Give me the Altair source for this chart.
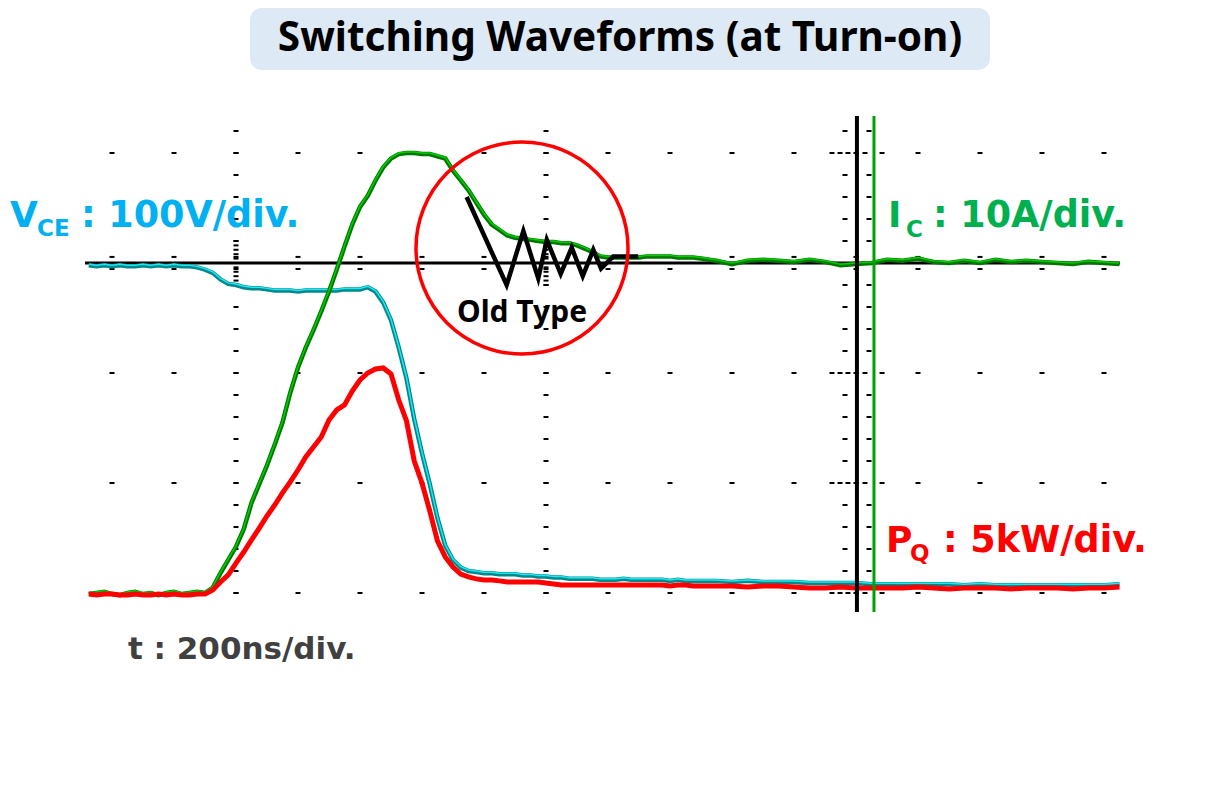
import altair as alt
import pandas as pd

# ---------------- data ----------------
# sample times in ns (200 ns/div)
t_ns = list(range(-95, 300, 5)) + list(range(300, 571, 10))

# collector current I_C in A (10 A/div)
ic_A = [-0.1, 0.0, 0.1, -0.1, -0.2, 0.0, 0.1, -0.1, 0.0, -0.2, 0.0, 0.1, -0.1, 0.0, 0.1, 0.0,
        0.5, 1.8, 3.0, 4.2, 5.8, 8.2, 9.9, 11.6, 13.5, 15.5, 18.2, 20.5, 22.3, 23.9, 25.6, 27.4,
        29.4, 31.5, 33.5, 35.1, 36.1, 37.5, 38.7, 39.5, 39.9, 40.0, 40.0, 39.9, 39.9, 39.7, 39.5,
        38.4, 37.5, 36.6, 35.5, 34.4, 33.5, 33.0, 32.5, 32.3, 32.2, 32.1, 32.0, 31.9, 31.9, 31.8,
        31.8, 31.6, 31.3, 31.0, 30.6, 30.5, 30.5, 30.5, 30.5, 30.5, 30.6, 30.6, 30.6, 30.6, 30.5,
        30.5, 30.5,
        30.4, 30.2, 29.9, 30.2, 30.3, 30.2, 30.1, 30.3, 30.1, 29.8, 29.9, 30.0, 30.3, 30.2, 30.4,
        30.1, 30.0, 30.2, 30.0, 30.3, 30.1, 30.2, 30.1, 30.0, 29.9, 30.1, 30.0, 29.9]

# collector-emitter voltage V_CE in V (100 V/div)
vce_V = [298, 297, 298, 297, 298, 297, 297, 298, 297, 298, 297, 298, 297, 297,
         296, 294, 291, 285, 281, 280, 278, 277, 277, 276, 275, 275, 275, 274, 275, 275,
         275, 275, 275, 276, 276, 276, 278, 274, 264, 248, 223, 195, 158, 127, 99, 68, 43,
         30, 23, 20, 19, 18, 18, 17, 17, 17, 16, 16, 15, 15, 14, 14, 13, 13, 13, 13, 12, 12,
         12, 13, 12, 12, 12, 12, 12, 11, 12, 11, 11,
         11, 11, 10, 11, 10, 10, 10, 9, 9, 9, 9, 8, 8, 8, 8, 8, 8, 7, 8, 7,
         7, 7, 7, 7, 7, 7, 7, 8]

# switching power P_Q in kW (5 kW/div)
pq_kW = [-0.05, -0.09, -0.05, -0.05, -0.09, -0.09, -0.05, -0.09, -0.09, -0.05, -0.09, -0.05,
         -0.09, -0.09, -0.05, -0.05,
         0.14, 0.5, 0.82, 1.36, 1.86, 2.41, 2.95, 3.5, 4.0, 4.55, 5.05, 5.59, 6.18, 6.64, 7.09,
         7.86, 8.32, 8.55, 9.18, 9.68, 10.0, 10.18, 10.23, 9.95, 8.77, 7.82, 6.0, 5.0, 3.73,
         2.36, 1.64, 1.18, 0.86, 0.73, 0.64, 0.59, 0.59, 0.55, 0.5, 0.5, 0.5, 0.5, 0.5, 0.45,
         0.41,
         0.36, 0.36, 0.36, 0.36, 0.36, 0.36, 0.36, 0.36, 0.36, 0.36, 0.36, 0.36, 0.36, 0.36,
         0.32, 0.36, 0.36, 0.32,
         0.32, 0.32, 0.32, 0.27, 0.32, 0.32, 0.27, 0.23, 0.23, 0.27, 0.23, 0.23, 0.23, 0.23,
         0.27, 0.23, 0.18, 0.23, 0.23, 0.23, 0.18, 0.23, 0.23, 0.23, 0.18, 0.23, 0.23, 0.27]

# "Old Type" ringing of I_C (A)
old_t = [148.8, 174.6, 185.4, 195.0, 200.5, 209.5, 216.6, 223.7, 230.5, 235.5, 243.4, 259.5]
old_ic = [36.0, 28.0, 32.9, 28.6, 32.1, 29.0, 31.4, 28.8, 31.2, 29.5, 30.6, 30.6]

# scope screen: amps/volts/kW per division, grid
IC_PER_DIV, VCE_PER_DIV, PQ_PER_DIV = 10, 100, 5
grid_t = list(range(-80, 561, 40))       # dotted marks along rows
grid_rows = [0, 1, 2, 4]                 # divisions
ref_row = 3                              # black reference line (I_C = 30 A)
column_t = [0, 200]
cursor_t = [400.6, 411.6]

# ---------------- build tables ----------------
wave = pd.DataFrame({
    "t": t_ns,
    "ic": [v / IC_PER_DIV for v in ic_A],
    "vce": [v / VCE_PER_DIV for v in vce_V],
    "pq": [v / PQ_PER_DIV for v in pq_kW],
})
old = pd.DataFrame({"t": old_t, "ic": [v / IC_PER_DIV for v in old_ic]})

ticks = [{"t": t, "y": r} for r in grid_rows for t in grid_t]
ticks += [{"t": t, "y": ref_row + d} for t in grid_t for d in (-0.055, 0.055)]
col_y = [round(i * 0.2, 2) for i in range(22)]
dense_y = [round(2.8 + i * 0.04, 2) for i in range(11)]
ticks += [{"t": t, "y": y} for t in column_t for y in col_y + dense_y]
for y in col_y:
    if y in grid_rows:
        ticks += [{"t": t, "y": y} for t in (384.5, 389.7, 394.8, 405.8, 416.8)]
    else:
        ticks += [{"t": t, "y": y} for t in (392.9, 408.4)]
ticks = pd.DataFrame(ticks)

X = alt.Scale(domain=[-147.1, 627.1], nice=False, zero=False)
Y = alt.Scale(domain=[-1.682, 5.318], nice=False, zero=False)
xq = lambda f: alt.X(f, type="quantitative", scale=X, axis=None)
yq = lambda f: alt.Y(f, type="quantitative", scale=Y, axis=None)

one = pd.DataFrame({"a": [0]})

box = alt.Chart(one).mark_rect(fill="#DDE9F5", cornerRadius=12).encode(
    x=alt.value(242), x2=alt.value(982), y=alt.value(0), y2=alt.value(62))

title = alt.Chart(one).mark_text(
    font="Noto Sans", fontSize=40.5, fontWeight="bold", color="black",
    align="center", baseline="alphabetic").encode(
    x=alt.value(612), y=alt.value(43), text=alt.value("Switching Waveforms (at Turn-on)"))

grid = alt.Chart(ticks).mark_tick(orient="horizontal", size=5, thickness=2,
                                  color="black", opacity=1).encode(x=xq("t"), y=yq("y"))

zero = alt.Chart(pd.DataFrame({"t1": [-97.4], "t2": [570.3], "y": [ref_row]})).mark_rule(
    color="black", strokeWidth=3).encode(x=xq("t1"), x2="t2", y=yq("y"))

base = alt.Chart(wave)
cy1 = base.mark_line(color="#00898C", strokeWidth=4.5).encode(x=xq("t"), y=yq("vce"))
cy2 = base.mark_line(color="#1EE6F0", strokeWidth=1.5, yOffset=-1).encode(x=xq("t"), y=yq("vce"))
gr1 = base.mark_line(color="#007800", strokeWidth=4.5).encode(x=xq("t"), y=yq("ic"))
gr2 = base.mark_line(color="#00CC00", strokeWidth=1.5, yOffset=-1).encode(x=xq("t"), y=yq("ic"))
rd = base.mark_line(color="#FF0000", strokeWidth=5).encode(x=xq("t"), y=yq("pq"))

cursors = alt.Chart(pd.DataFrame({"t": cursor_t, "y1": [4.336, 4.336], "y2": [-0.173, -0.173],
                                  "c": ["black", "#00A000"], "w": [4, 3]})).mark_rule().encode(
    x=xq("t"), y=yq("y1"), y2="y2",
    color=alt.Color("c:N", scale=None), strokeWidth=alt.StrokeWidth("w:Q", scale=None))

oldline = alt.Chart(old).mark_line(color="black", strokeWidth=4.5, strokeJoin="miter").encode(
    x=xq("t"), y=yq("ic"))

circle = alt.Chart(one).mark_point(shape="circle", size=44944, filled=False,
                                   color="#FF0000", strokeWidth=3.5, opacity=1).encode(
    x=alt.value(514), y=alt.value(240))

labels = pd.DataFrame([
    {"s": "V", "x": 2, "y": 219, "f": 36, "c": "#00B0F0"},
    {"s": "CE", "x": 29, "y": 228, "f": 23, "c": "#00B0F0"},
    {"s": ": 100V/div.", "x": 73, "y": 219, "f": 36.5, "c": "#00B0F0"},
    {"s": "I", "x": 880, "y": 219, "f": 36, "c": "#00B050"},
    {"s": "C", "x": 898, "y": 229, "f": 23, "c": "#00B050"},
    {"s": ": 10A/div.", "x": 925, "y": 219, "f": 36.5, "c": "#00B050"},
    {"s": "P", "x": 878, "y": 544, "f": 36, "c": "#FF0000"},
    {"s": "Q", "x": 902, "y": 553, "f": 23, "c": "#FF0000"},
    {"s": ": 5kW/div.", "x": 935, "y": 544, "f": 36.5, "c": "#FF0000"},
    {"s": "t : 200ns/div.", "x": 120, "y": 651, "f": 31, "c": "#404040"},
])
lab = alt.Chart(labels).mark_text(font="DejaVu Sans", fontWeight="bold", align="left",
                                  baseline="alphabetic").encode(
    x=alt.X("x:Q", scale=None), y=alt.Y("y:Q", scale=None), text="s:N",
    size=alt.Size("f:Q", scale=None), color=alt.Color("c:N", scale=None))

oldtxt = alt.Chart(one).mark_text(font="Noto Sans", fontSize=30, fontWeight="bold",
                                  color="black", align="center", baseline="alphabetic").encode(
    x=alt.value(514), y=alt.value(314), text=alt.value("Old Type"))

chart = alt.layer(box, title, grid, zero, cy1, cy2, gr1, gr2, rd, cursors, oldline,
                  circle, oldtxt, lab).properties(
    width=1200, height=770, padding=0, background="white",
    autosize=alt.AutoSizeParams(type="none")
).configure_view(stroke=None)

chart.save("out.html", embed_options={"renderer": "svg", "actions": False})
